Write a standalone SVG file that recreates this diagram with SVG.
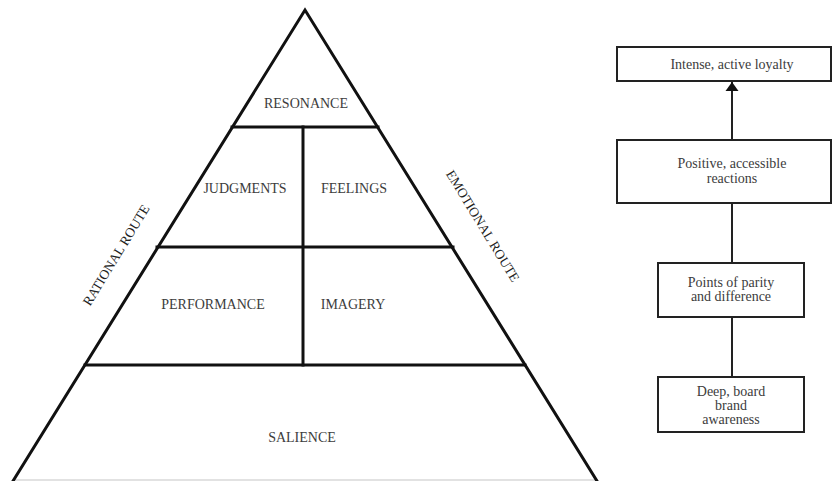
<svg xmlns="http://www.w3.org/2000/svg" width="833" height="481" viewBox="0 0 833 481">
  <style>
    .edge { stroke: #111; stroke-width: 3; fill: none; stroke-linecap: square; }
    .lbl { font-family: "Liberation Serif", "Times New Roman", serif; font-size: 14px; fill: #3c3c3c; text-anchor: middle; }
    .route { font-family: "Liberation Serif", "Times New Roman", serif; font-size: 13.5px; fill: #222; text-anchor: middle; }
    .box { fill: #fff; stroke: #222; stroke-width: 2; }
    .link { stroke: #222; stroke-width: 2; fill: none; }
  </style>
  <defs>
    <marker id="arrow" markerUnits="userSpaceOnUse" markerWidth="14" markerHeight="14" refX="9" refY="7" orient="auto">
      <path d="M0,0.5 L9,7 L0,13.5 Z" fill="#111"/>
    </marker>
  </defs>

  <rect width="833" height="481" fill="#fff"/>

  <!-- Brand resonance pyramid -->
  <g id="pyramid">
    <line x1="13" y1="480" x2="597" y2="480" stroke="#d8d8d8" stroke-width="1.5"/>
    <polyline class="edge" points="13,481 305,10 597,481" stroke-linejoin="miter"/>
    <line class="edge" x1="232" y1="127" x2="378" y2="127"/>
    <line class="edge" x1="157" y1="247" x2="453" y2="247"/>
    <line class="edge" x1="85" y1="365" x2="525" y2="365"/>
    <line class="edge" x1="303" y1="127" x2="303" y2="365"/>
  </g>

  <g id="resonance"><text class="lbl" x="306" y="108">RESONANCE</text></g>
  <g id="judgments"><text class="lbl" x="245" y="193">JUDGMENTS</text></g>
  <g id="feelings"><text class="lbl" x="354" y="193">FEELINGS</text></g>
  <g id="performance"><text class="lbl" x="213" y="309">PERFORMANCE</text></g>
  <g id="imagery"><text class="lbl" x="353" y="309">IMAGERY</text></g>
  <g id="salience"><text class="lbl" x="302" y="442">SALIENCE</text></g>

  <g id="rational-route">
    <text class="route" transform="translate(116,255) rotate(-58.6)" dy="0.35em">RATIONAL ROUTE</text>
  </g>
  <g id="emotional-route">
    <text class="route" transform="translate(483,226) rotate(58.6)" dy="0.35em">EMOTIONAL ROUTE</text>
  </g>

  <!-- Brand-building ladder -->
  <g id="connectors">
    <line class="link" x1="732" y1="140" x2="732" y2="82" marker-end="url(#arrow)"/>
    <line class="link" x1="732" y1="203" x2="732" y2="263"/>
    <line class="link" x1="732" y1="317" x2="732" y2="377"/>
  </g>

  <g id="loyalty">
    <rect class="box" x="617" y="47" width="214" height="34"/>
    <text class="lbl" x="732" y="69">Intense, active loyalty</text>
  </g>
  <g id="reactions">
    <rect class="box" x="617" y="140" width="214" height="63"/>
    <text class="lbl" x="732" y="168">Positive, accessible</text>
    <text class="lbl" x="732" y="183">reactions</text>
  </g>
  <g id="parity">
    <rect class="box" x="658" y="263" width="146" height="54"/>
    <text class="lbl" x="731" y="287">Points of parity</text>
    <text class="lbl" x="731" y="301">and difference</text>
  </g>
  <g id="awareness">
    <rect class="box" x="658" y="377" width="146" height="55"/>
    <text class="lbl" x="731" y="396">Deep, board</text>
    <text class="lbl" x="731" y="410">brand</text>
    <text class="lbl" x="731" y="424">awareness</text>
  </g>
</svg>
